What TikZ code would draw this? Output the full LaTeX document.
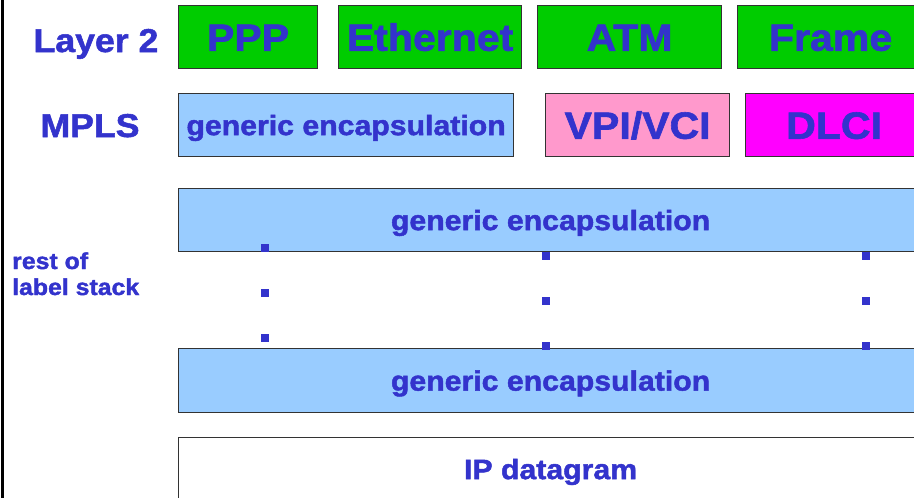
\documentclass[tikz,border=0pt]{standalone}
\usepackage{fontspec}
\setmainfont{Liberation Sans}[FakeStretch=1.08, BoldFeatures={FakeBold=1.6}]
\definecolor{txtblue}{HTML}{3333CC}
\definecolor{ltwogreen}{HTML}{00CC00}
\definecolor{encblue}{HTML}{99CCFF}
\definecolor{vpipink}{HTML}{FF99CC}
\definecolor{dlcimag}{HTML}{FF00FF}
\definecolor{boxline}{HTML}{333333}
\begin{document}
\begin{tikzpicture}[x=1pt,y=-1pt,
  box/.style={rectangle, draw=boxline, line width=1.2pt, anchor=north west,
    inner sep=0pt, text=txtblue},
  bigtxt/.style={font=\fontsize{38}{40}\selectfont\bfseries, text height=27.3pt, text depth=0pt},
  enctxt/.style={font=\fontsize{28}{30}\selectfont\bfseries, text height=20pt, text depth=0pt},
  sidelbl/.style={text=txtblue, inner sep=0pt, font=\fontsize{33}{35}\selectfont\bfseries},
  smalllbl/.style={text=txtblue, inner sep=0pt, anchor=base west, font=\fontsize{23}{24}\selectfont\bfseries},
  stackdot/.style={fill=txtblue, draw=none, rectangle, inner sep=0pt, minimum width=8.5pt, minimum height=8.5pt},
  frame/.style={draw=black, line width=2.4pt}
]
\useasboundingbox (0,0) rectangle (914,498);

% left rule
\coordinate (ruletop) at (2.6,0);
\coordinate (rulebot) at (2.6,498);
\draw[frame] (ruletop) -- (rulebot);

% row labels
\node[sidelbl, anchor=base] (ltwo) at (96,52) {Layer 2};
\node[sidelbl, anchor=base] (mpls) at (90,137) {MPLS};
\node[smalllbl] (restof) at (12,269) {rest of};
\node[smalllbl] (lblstack) at (12,295) {label stack};

% layer 2 frames
\node[box, bigtxt, fill=ltwogreen, minimum width=139pt, minimum height=63pt] (ppp) at (178,5) {PPP};
\node[box, bigtxt, fill=ltwogreen, minimum width=183pt, minimum height=63pt] (eth) at (338,5) {Ethernet};
\node[box, bigtxt, fill=ltwogreen, minimum width=184pt, minimum height=63pt] (atm) at (537,5) {ATM};
\node[box, bigtxt, fill=ltwogreen, minimum width=186pt, minimum height=63pt] (frm) at (737,5) {Frame};

% MPLS shim header per link type
\node[box, enctxt, fill=encblue, minimum width=335pt, minimum height=63pt] (genmpls) at (178,93) {generic encapsulation};
\node[box, bigtxt, fill=vpipink, minimum width=184pt, minimum height=63pt] (vpi) at (545,93) {VPI/VCI};
\node[box, bigtxt, fill=dlcimag, minimum width=177pt, minimum height=63pt] (dlci) at (745,93) {DLCI};

% label stack
\node[box, enctxt, fill=encblue, minimum width=744pt, minimum height=63pt] (gentop) at (178,188) {generic encapsulation};
\node[box, enctxt, fill=encblue, minimum width=744pt, minimum height=64pt] (genbot) at (178,348) {generic encapsulation};

% payload
\node[box, enctxt, fill=white, minimum width=744pt, minimum height=63pt] (ipd) at (178,437) {IP datagram};

% continuation dots
\foreach \x/\ya/\yb/\yc/\n in {265/248/293/338/a, 546/256/301/346/b, 866/256/301/346/c}{
  \node[stackdot] (dot\n1) at (\x,\ya) {};
  \node[stackdot] (dot\n2) at (\x,\yb) {};
  \node[stackdot] (dot\n3) at (\x,\yc) {};
}
\end{tikzpicture}
\end{document}
